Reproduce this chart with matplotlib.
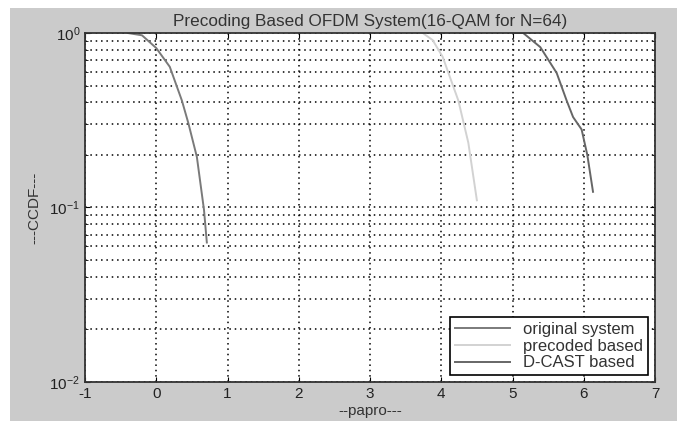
import matplotlib

matplotlib.use("Agg")
import matplotlib.pyplot as plt
from matplotlib.patches import Rectangle

# valores
papr_original = [-0.40, -0.20, 0.00, 0.19, 0.36, 0.45, 0.57, 0.67, 0.71]
ccdf_original = [1.00, 0.97, 0.82, 0.64, 0.41, 0.305, 0.195, 0.097, 0.063]

papr_precoded = [3.74, 3.88, 4.02, 4.24, 4.38, 4.50]
ccdf_precoded = [1.00, 0.91, 0.73, 0.41, 0.235, 0.11]

papr_dcast = [5.01, 5.15, 5.39, 5.62, 5.76, 5.85, 5.97, 6.05, 6.13]
ccdf_dcast = [1.00, 1.00, 0.83, 0.59, 0.41, 0.33, 0.28, 0.20, 0.123]

x_ticks = [-1, 0, 1, 2, 3, 4, 5, 6, 7]

plt.rcParams["font.family"] = ["Liberation Sans", "DejaVu Sans"]
plt.rcParams["axes.unicode_minus"] = False

fig = plt.figure(figsize=(6.79, 4.23), dpi=100, facecolor="white")
fig.patches.append(
    Rectangle((10 / 679, 2 / 423), 667 / 679, 413 / 423,
              transform=fig.transFigure, facecolor="#cbcbcb", edgecolor="none", zorder=-1)
)
ax = fig.add_axes([85 / 679, 41 / 423, 570 / 679, 349 / 423])

ax.semilogy(papr_original, ccdf_original, color="#7a7a7a", lw=1.4, label="original system")
ax.semilogy(papr_precoded, ccdf_precoded, color="#d2d2d2", lw=1.4, label="precoded based")
ax.semilogy(papr_dcast, ccdf_dcast, color="#666666", lw=1.4, label="D-CAST based")

ax.set_xlim(-1, 7)
ax.set_ylim(1e-2, 1)
ax.set_xticks(x_ticks)
ax.grid(True, which="both", color="black", linestyle=(0, (1, 2.5)), lw=1.1)
ax.tick_params(which="both", direction="in", labelsize=11, top=True, right=True,
               labelcolor="#222222")
for s in ax.spines.values():
    s.set_linewidth(1.3)
    s.set_color("#333333")

ax.set_title("Precoding Based OFDM System(16-QAM for N=64)", fontsize=12.3, pad=5,
             color="#333333")
ax.set_xlabel("--papro---", fontsize=11, labelpad=2, color="#333333")
ax.set_ylabel("---CCDF---", fontsize=11, labelpad=6, color="#333333")

leg = ax.legend(loc="lower right", fontsize=12, fancybox=False, framealpha=1,
                edgecolor="black", handlelength=3.3, borderaxespad=0.4, labelspacing=0.1,
                borderpad=0.3)
leg.get_frame().set_linewidth(1.2)
for t in leg.get_texts():
    t.set_color("#333333")

fig.savefig("out.png", dpi=100, facecolor=fig.get_facecolor())
